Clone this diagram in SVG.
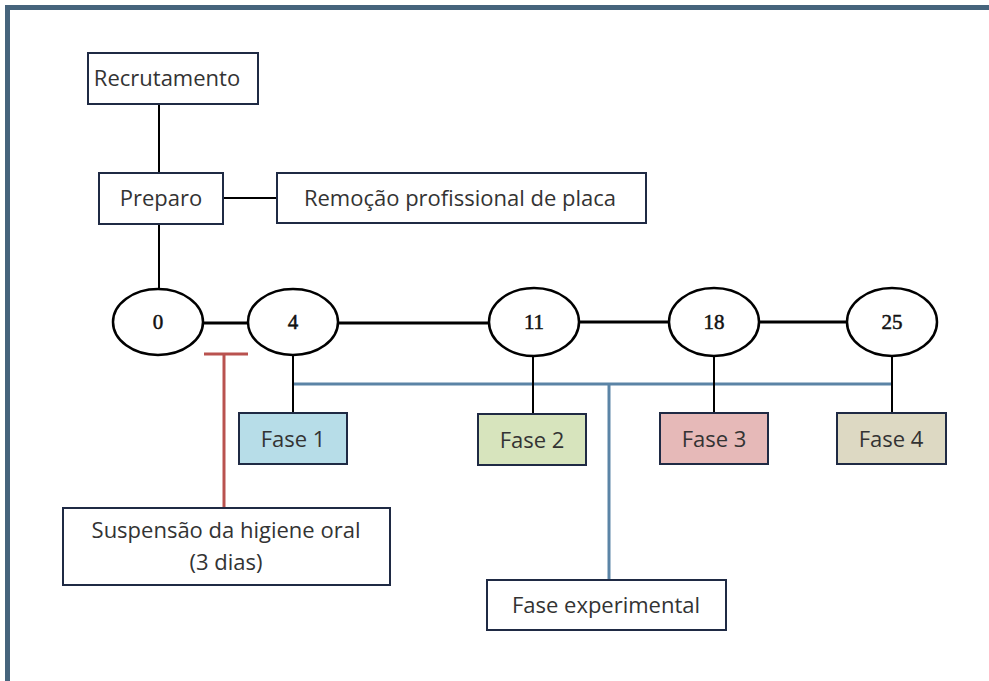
<svg xmlns="http://www.w3.org/2000/svg" width="989" height="681" viewBox="0 0 989 681">
<style>
.box{fill:#fff;stroke:#1f2a44;stroke-width:2}
.t{font-family:"Open Sans","Noto Sans",sans-serif;font-size:22px;fill:#333;text-anchor:middle}
.n{font-family:"Liberation Serif",serif;font-size:21px;fill:#111;stroke:#111;stroke-width:0.5;text-anchor:middle}
.ell{fill:#fff;stroke:#000;stroke-width:2.5}
.k{stroke:#000;stroke-width:2;fill:none}
.kk{stroke:#000;stroke-width:3;fill:none}
.b{stroke:#5b84a6;stroke-width:3;fill:none}
.r{stroke:#b9524f;stroke-width:3;fill:none}
</style>
<rect x="0" y="0" width="989" height="681" fill="#fff"/>
<rect id="frame" x="7.5" y="7.5" width="990" height="690" fill="#fff" stroke="#46647c" stroke-width="5"/>
<g id="connectors">
<line class="k" x1="159" y1="104" x2="159" y2="173"/>
<line class="k" x1="223" y1="198" x2="277" y2="198"/>
<line class="k" x1="159" y1="224" x2="159" y2="289"/>
<line class="kk" x1="203" y1="323" x2="248" y2="323"/>
<line class="kk" x1="338" y1="323" x2="489" y2="323"/>
<line class="kk" x1="579" y1="322" x2="669" y2="322"/>
<line class="kk" x1="759" y1="322" x2="847" y2="322"/>
<line class="b" x1="293" y1="384" x2="892" y2="384"/>
<line class="b" x1="609" y1="384" x2="609" y2="580"/>
<line class="k" x1="293" y1="355" x2="293" y2="413"/>
<line class="k" x1="533" y1="355" x2="533" y2="413"/>
<line class="k" x1="714" y1="355" x2="714" y2="413"/>
<line class="k" x1="892" y1="355" x2="892" y2="413"/>
<line class="r" x1="204" y1="354" x2="248" y2="354"/>
<line class="r" x1="224" y1="354" x2="224" y2="508"/>
</g>
<g id="recrutamento"><rect class="box" x="88" y="53" width="170" height="51"/><text class="t" x="167" y="86">Recrutamento</text></g>
<g id="preparo"><rect class="box" x="99" y="173" width="124" height="51"/><text class="t" x="161" y="206">Preparo</text></g>
<g id="remocao"><rect class="box" x="277" y="173" width="369" height="50"/><text class="t" x="460" y="206">Remoção profissional de placa</text></g>
<g id="d0"><ellipse class="ell" cx="158" cy="322" rx="45" ry="33"/><text class="n" x="158" y="329">0</text></g>
<g id="d4"><ellipse class="ell" cx="293" cy="322" rx="45" ry="33"/><text class="n" x="293" y="329">4</text></g>
<g id="d11"><ellipse class="ell" cx="534" cy="322" rx="45" ry="34"/><text class="n" x="534" y="329">11</text></g>
<g id="d18"><ellipse class="ell" cx="714" cy="322" rx="45" ry="34"/><text class="n" x="714" y="329">18</text></g>
<g id="d25"><ellipse class="ell" cx="892" cy="322" rx="45" ry="34"/><text class="n" x="892" y="329">25</text></g>
<g id="fase1"><rect class="box" x="239" y="413" width="108" height="51" style="fill:#b7dde8"/><text class="t" x="293" y="447">Fase 1</text></g>
<g id="fase2"><rect class="box" x="478" y="414" width="108" height="51" style="fill:#d7e4bd"/><text class="t" x="532" y="448">Fase 2</text></g>
<g id="fase3"><rect class="box" x="660" y="413" width="108" height="51" style="fill:#e6b9b8"/><text class="t" x="714" y="447">Fase 3</text></g>
<g id="fase4"><rect class="box" x="837" y="413" width="109" height="51" style="fill:#ddd9c3"/><text class="t" x="891" y="447">Fase 4</text></g>
<g id="suspensao"><rect class="box" x="63" y="508" width="327" height="77"/><text class="t" x="226" y="538">Suspensão da higiene oral</text><text class="t" x="226" y="570">(3 dias)</text></g>
<g id="faseexp"><rect class="box" x="487" y="580" width="239" height="50"/><text class="t" x="606" y="613">Fase experimental</text></g>
</svg>
